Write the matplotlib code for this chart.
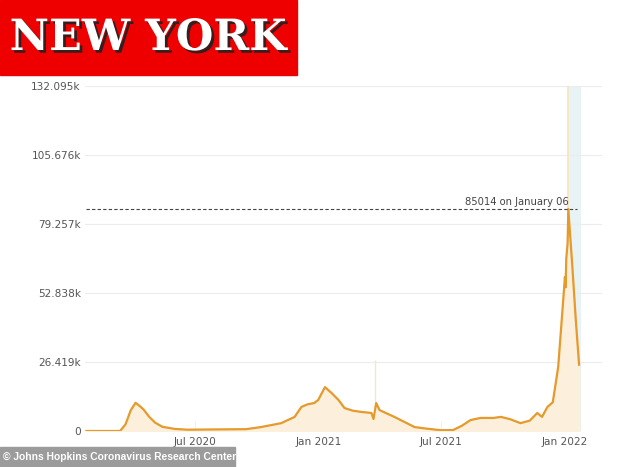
import datetime as dt

import matplotlib
matplotlib.use("Agg")
import matplotlib.pyplot as plt
import matplotlib.patheffects as pe
from matplotlib.patches import Rectangle

# daily new cases (7-day average)
dates = [
    "2020-01-22", "2020-03-12", "2020-03-20", "2020-03-28", "2020-04-04",
    "2020-04-10", "2020-04-16", "2020-04-24", "2020-05-03", "2020-05-14",
    "2020-06-01", "2020-06-20", "2020-08-01", "2020-09-15", "2020-10-07",
    "2020-11-06", "2020-11-26", "2020-12-06", "2020-12-15", "2020-12-25",
    "2020-12-31", "2021-01-10", "2021-01-20", "2021-01-30", "2021-02-08",
    "2021-02-20", "2021-03-05", "2021-03-20", "2021-03-23", "2021-03-27",
    "2021-04-01", "2021-04-23", "2021-05-23", "2021-06-10", "2021-07-01",
    "2021-07-19", "2021-08-01", "2021-08-14", "2021-08-29", "2021-09-17",
    "2021-09-28", "2021-10-12", "2021-10-27", "2021-11-10", "2021-11-21",
    "2021-11-28", "2021-12-06", "2021-12-14", "2021-12-22", "2021-12-30",
    "2022-01-01", "2022-01-02", "2022-01-03", "2022-01-05", "2022-01-06",
    "2022-01-09", "2022-01-12", "2022-01-17", "2022-01-22",
]
cases = [
    0, 0, 2500, 8000, 10800,
    9600, 8200, 5500, 3200, 1600,
    800, 500, 600, 700, 1500,
    3000, 5400, 9200, 10200, 10700,
    11900, 16800, 14500, 11900, 8800,
    7800, 7300, 6900, 4600, 10700,
    8000, 5400, 1500, 900, 300,
    350, 2000, 4200, 5000, 5000,
    5400, 4500, 3000, 4000, 6900,
    5400, 9200, 11000, 24500, 52000,
    59000, 55000, 66000, 72000, 85014,
    74000, 63000, 43000, 25400,
]
yticks = [0, 26419, 52838, 79257, 105676, 132095]
ytick_labels = ["0", "26.419k", "52.838k", "79.257k", "105.676k", "132.095k"]
xtick_dates = ["2020-07-01", "2021-01-01", "2021-07-01", "2022-01-01"]
xtick_labels = ["Jul 2020", "Jan 2021", "Jul 2021", "Jan 2022"]
peak_value = 85014
peak_date = "2022-01-06"


def d(s):
    return dt.datetime.strptime(s, "%Y-%m-%d")


x = [d(s) for s in dates]

fig = plt.figure(figsize=(6.34, 4.67), dpi=100)
ax = fig.add_axes([85 / 634, 36 / 467, 517 / 634, 345 / 467])

# highlighted recent band and marker lines
ax.axvspan(d("2022-01-05"), d("2022-01-23"), color="#e8f3f6", zorder=0)
ax.axvline(d(peak_date), color="#fbe3bd", lw=1.2, zorder=1)
ax.vlines(d("2021-03-25"), 0, 27000, color="#f3e6d0", lw=1, zorder=1)

for yt in yticks[1:]:
    ax.axhline(yt, color="#ececec", lw=0.8, zorder=0.5)

ax.fill_between(x, cases, color="#fcefdc", zorder=2)
ax.plot(x, cases, color="#e59a2c", lw=1.6, zorder=3)

# peak annotation
ax.hlines(peak_value, d("2020-01-22"), d("2022-01-19"), colors="#444444",
          linestyles=(0, (3, 2)), lw=0.8, zorder=4)
ax.text(d("2022-01-06"), peak_value + 900, "85014 on January 06",
        ha="right", va="bottom", fontsize=7.2, color="#444444", zorder=5)

ax.set_xlim(d("2020-01-20"), d("2022-02-25"))
ax.set_ylim(0, 132095)
ax.set_yticks(yticks)
ax.set_yticklabels(ytick_labels)
ax.set_xticks([d(s) for s in xtick_dates])
ax.set_xticklabels(xtick_labels)
ax.tick_params(axis="y", length=0, pad=3, labelsize=7.6, labelcolor="#555555")
ax.tick_params(axis="x", direction="in", length=7, color="#f0f0f0",
               pad=4, labelsize=7.6, labelcolor="#555555")
for s in ax.spines.values():
    s.set_visible(False)

# header box
fig.patches.append(Rectangle((0, 1 - 75 / 467), 297 / 634, 75 / 467,
                             transform=fig.transFigure, color="#ee0000",
                             zorder=0))
fig.text(148 / 634, 1 - 38 / 467, "NEW YORK", ha="center", va="center",
         fontsize=31, fontweight="bold", family="DejaVu Serif",
         color="white",
         path_effects=[pe.withSimplePatchShadow(offset=(2, -2),
                                                shadow_rgbFace="#222222",
                                                alpha=0.9)])

# footer box
fig.patches.append(Rectangle((0, 0), 235 / 634, 20 / 467,
                             transform=fig.transFigure, color="#9b9b9b",
                             zorder=0))
fig.text(3 / 634, 10 / 467, "\u00a9 Johns Hopkins Coronavirus Research Center",
         ha="left", va="center", fontsize=7.4, fontweight="bold",
         family="Liberation Sans", color="white")

fig.savefig("out.png", dpi=100)
